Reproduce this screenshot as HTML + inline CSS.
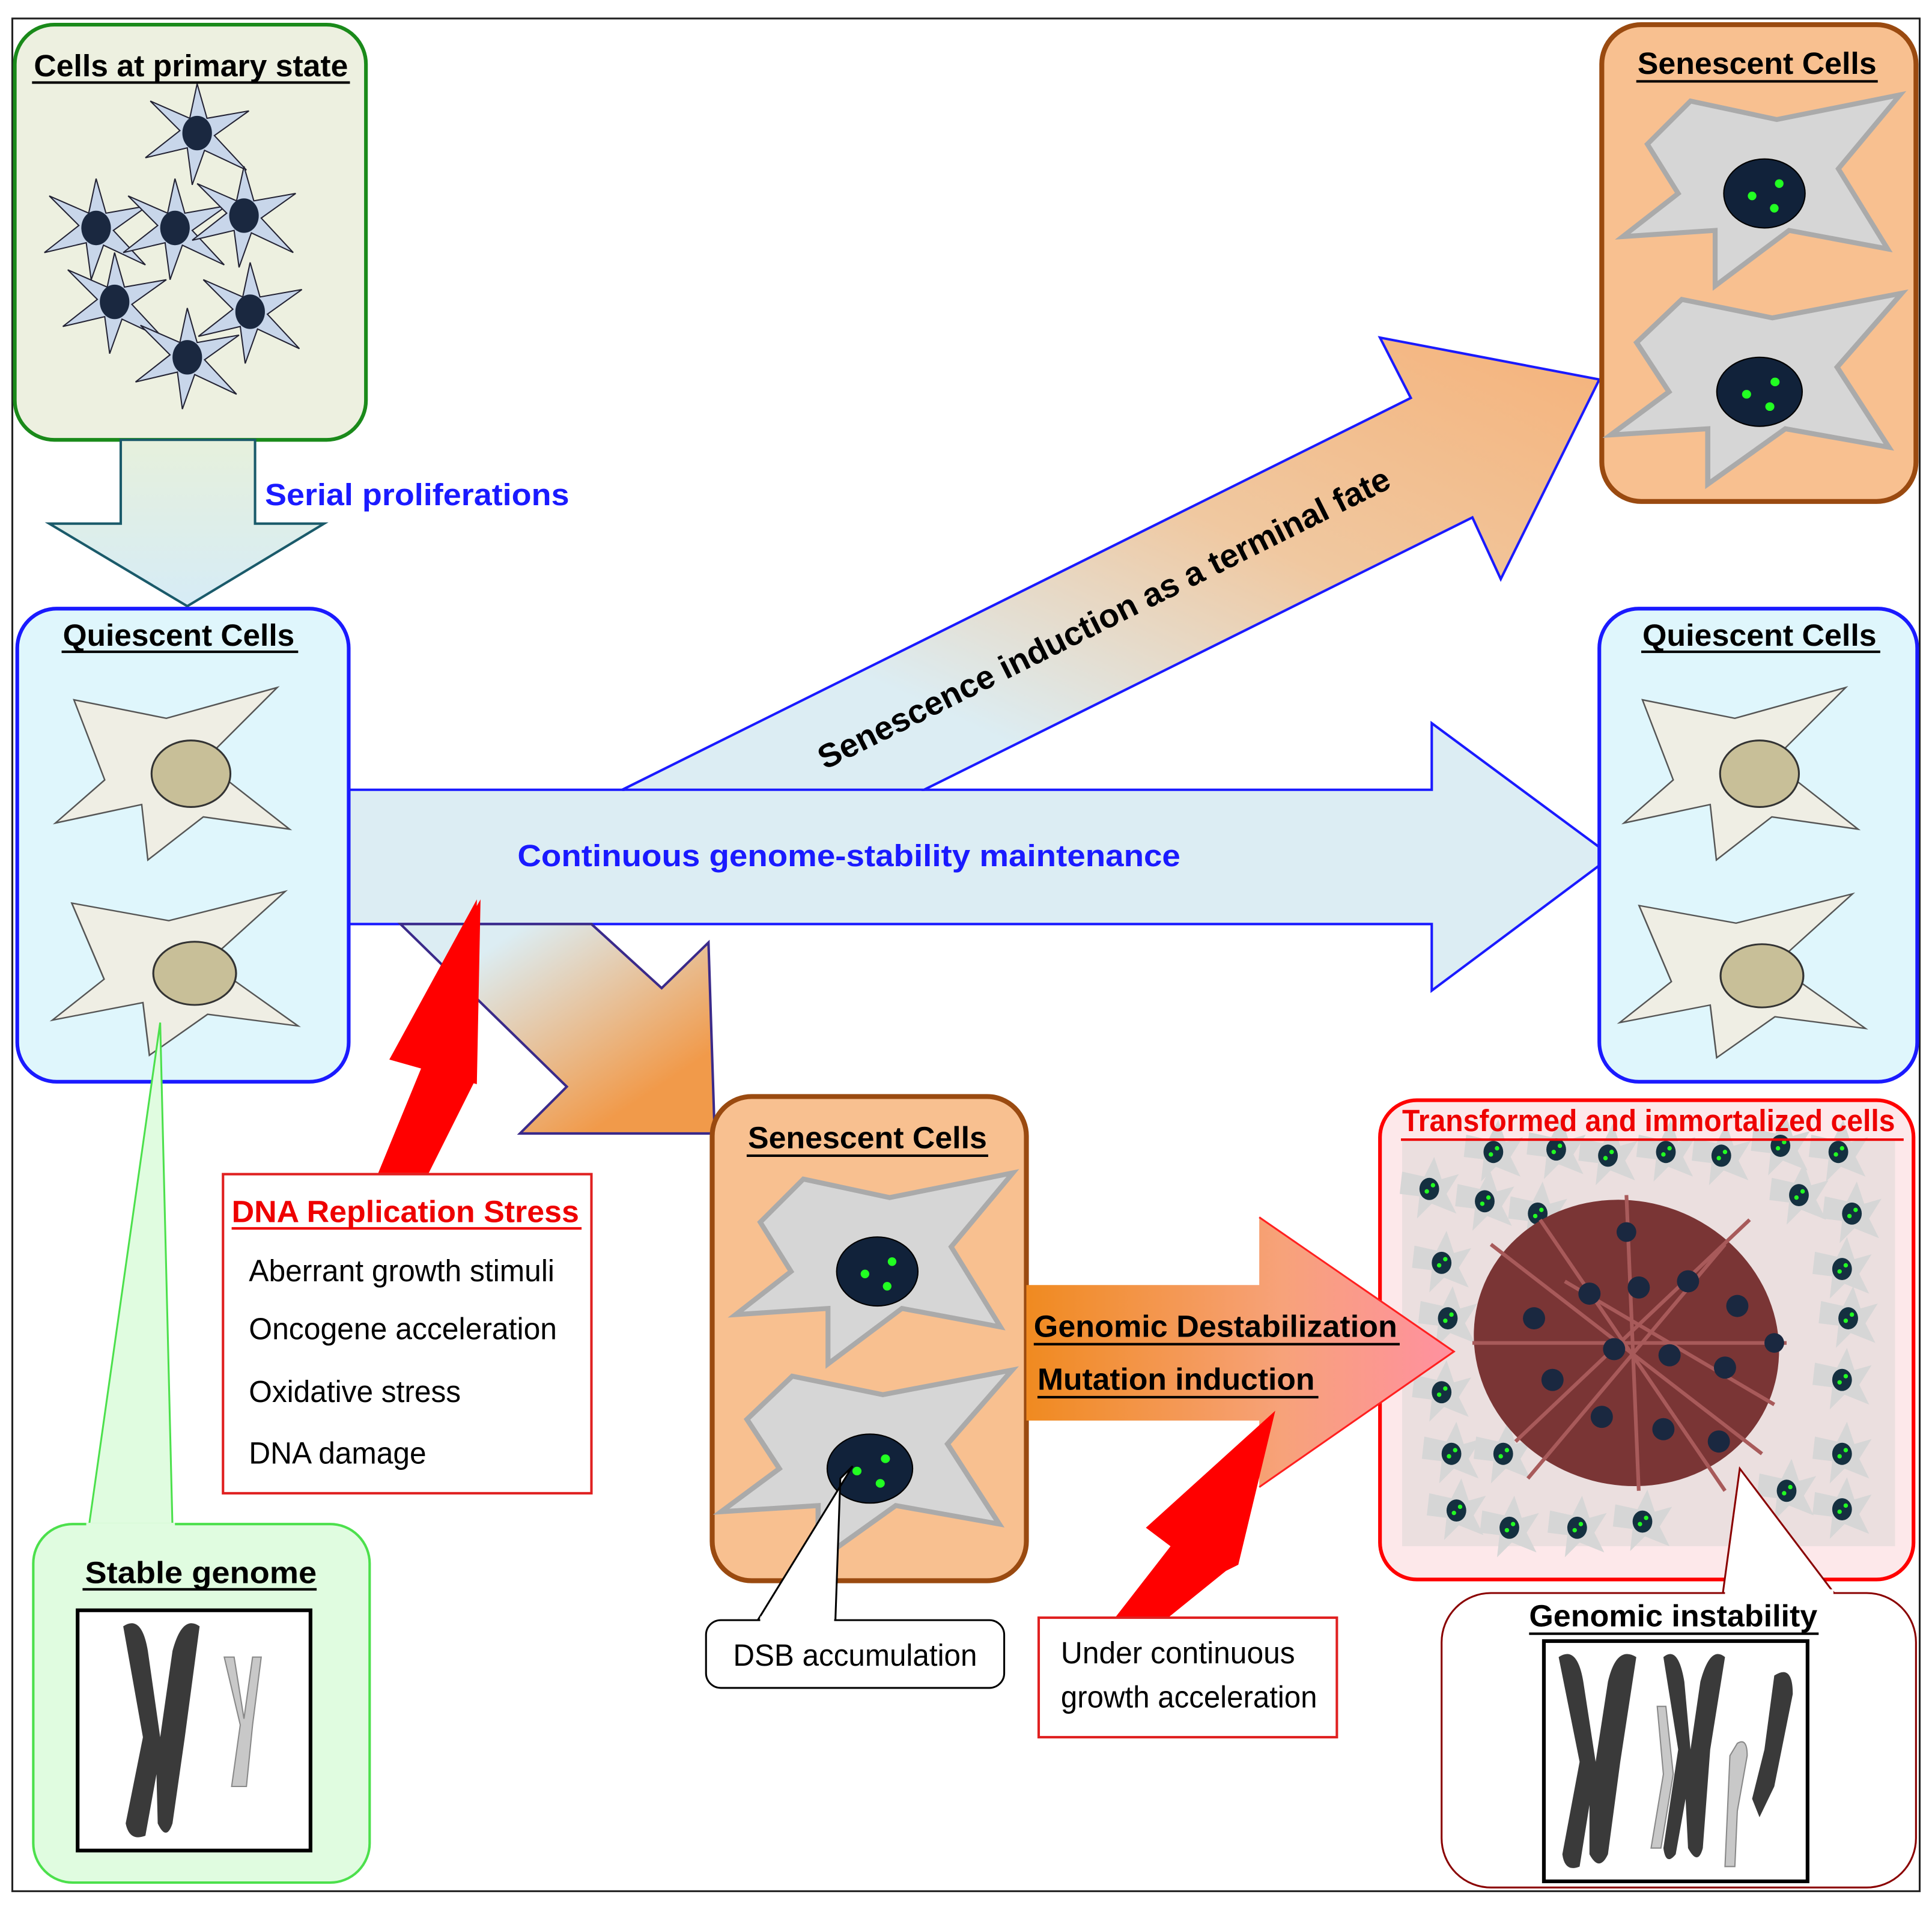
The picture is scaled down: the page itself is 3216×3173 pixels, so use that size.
<!DOCTYPE html>
<html><head><meta charset="utf-8"><style>
html,body{margin:0;padding:0;background:#fff}
svg{display:block}
text{font-family:"Liberation Sans",sans-serif}
</style></head><body>
<svg width="3216" height="3173" viewBox="0 0 1568 1547" xmlns="http://www.w3.org/2000/svg">
<defs>
<linearGradient id="gDown" x1="0" y1="0" x2="0" y2="1"><stop offset="0" stop-color="#e6f0dc"/><stop offset="1" stop-color="#d6ecf6"/></linearGradient>
<linearGradient id="gSen" x1="0" y1="1" x2="1" y2="0"><stop offset="0.25" stop-color="#dcedf3"/><stop offset="0.6" stop-color="#f0c8a0"/><stop offset="1" stop-color="#f5b27a"/></linearGradient>
<linearGradient id="gLow" x1="0" y1="0" x2="1" y2="1"><stop offset="0.2" stop-color="#dcedf3"/><stop offset="0.8" stop-color="#f19a4a"/></linearGradient>
<linearGradient id="gOr" x1="0" y1="0" x2="1" y2="0"><stop offset="0" stop-color="#f08a20"/><stop offset="0.6" stop-color="#f7a27a"/><stop offset="1" stop-color="#ff90a0"/></linearGradient>
<g id="qcell"><path d="M-95,-60 L-20,-45 L70,-70 L10,-10 L80,45 L10,35 L-35,70 L-40,25 L-110,40 L-70,5 Z" fill="#efeee4" stroke="#555" stroke-width="1.2"/><ellipse cx="0" cy="0" rx="32" ry="27" fill="#c8bf98" stroke="#333" stroke-width="1.5"/></g>
<g id="scell"><path d="M-95,-40 L-60,-75 L10,-60 L110,-80 L60,-20 L100,45 L20,30 L-40,75 L-40,30 L-115,35 L-70,0 Z" fill="#d6d6d6" stroke="#aaa" stroke-width="4"/><ellipse cx="0" cy="0" rx="33" ry="28" fill="#11223a" stroke="#000"/><circle cx="-10" cy="2" r="3.5" fill="#2f2"/><circle cx="12" cy="-8" r="3.5" fill="#2f2"/><circle cx="8" cy="12" r="3.5" fill="#2f2"/></g>
<g id="pcell"><path d="M0,-40 L8,-12 L42,-18 L14,2 L40,30 L6,14 L-4,42 L-8,12 L-42,20 L-14,-2 L-38,-26 L-6,-12 Z" fill="#c8d6ea" stroke="#223" stroke-width="1"/><ellipse cx="0" cy="0" rx="12" ry="14" fill="#1a2840"/></g>
<g id="tcell"><path d="M-22,-14 L-4,-10 L4,-26 L10,-8 L24,-12 L14,4 L22,20 L2,12 L-10,24 L-8,6 L-24,4 Z" fill="#d6d6d6"/><ellipse cx="0" cy="0" rx="8" ry="9" fill="#143040"/><circle cx="-2" cy="2" r="1.8" fill="#2f2"/><circle cx="3" cy="-3" r="1.8" fill="#2f2"/></g>
</defs>
<rect x="10" y="15" width="1548" height="1520" fill="#fff" stroke="#222" stroke-width="1.5"/>

<rect x="12" y="20" width="285" height="337" rx="32" fill="#edf0e0" stroke="#1a8a1a" stroke-width="3"/>
<text x="155" y="62" font-size="25" font-weight="bold" text-anchor="middle" textLength="255" lengthAdjust="spacingAndGlyphs">Cells at primary state</text>
<line x1="26" y1="67" x2="284" y2="67" stroke="#000" stroke-width="2"/>
<use href="#pcell" transform="translate(160,108)"/>
<use href="#pcell" transform="translate(78,185)"/>
<use href="#pcell" transform="translate(142,185)"/>
<use href="#pcell" transform="translate(198,175)"/>
<use href="#pcell" transform="translate(93,245)"/>
<use href="#pcell" transform="translate(203,253)"/>
<use href="#pcell" transform="translate(152,290)"/>

<polygon points="98,357 207,357 207,425 263,425 152,492 40,425 98,425" fill="url(#gDown)" stroke="#1a5a6a" stroke-width="2"/>
<text x="215" y="410" font-size="25" font-weight="bold" fill="#1a1aff" textLength="247" lengthAdjust="spacingAndGlyphs">Serial proliferations</text>

<polygon points="283,641 1162,641 1162,587 1308,695 1162,804 1162,750 283,750" fill="#dcedf3" stroke="#1a1aff" stroke-width="2"/>
<polygon points="505,641 1145,323 1120,274 1298,308 1218,470 1195,420 750,641" fill="url(#gSen)" stroke="#1a1aff" stroke-width="2"/>
<polygon points="507,642 748,642 560,735 340,735" fill="#dcedf3"/>
<text transform="translate(900,510) rotate(-26.5)" font-size="27" font-weight="bold" text-anchor="middle" textLength="515" lengthAdjust="spacingAndGlyphs">Senescence induction as a terminal fate</text>
<text x="420" y="703" font-size="25" font-weight="bold" fill="#1a1aff" textLength="538" lengthAdjust="spacingAndGlyphs">Continuous genome-stability maintenance</text>
<polygon points="325,750 480,750 537,802 575,765 580,920 422,920 460,882" fill="url(#gLow)" stroke="#3a2a8a" stroke-width="2"/>

<rect x="14" y="494" width="269" height="384" rx="32" fill="#dff6fc" stroke="#1a1aff" stroke-width="3"/>
<text x="145" y="524" font-size="25" font-weight="bold" text-anchor="middle" textLength="188" lengthAdjust="spacingAndGlyphs">Quiescent Cells</text>
<line x1="50" y1="529" x2="242" y2="529" stroke="#000" stroke-width="2"/>
<use href="#qcell" transform="translate(155,628)"/>
<use href="#qcell" transform="translate(158,790) scale(1.05,0.95)"/>

<polygon points="307,952 348,952 385,878 387,730 316,860 348,852" fill="#ff0000"/>
<polygon points="390,730 316,860 387,880" fill="#ff0000"/>

<rect x="181" y="953" width="299" height="259" fill="#fff" stroke="#e02020" stroke-width="2"/>
<text x="188" y="992" font-size="25" font-weight="bold" fill="#ee0000" textLength="282" lengthAdjust="spacingAndGlyphs">DNA Replication Stress</text>
<line x1="188" y1="997" x2="472" y2="997" stroke="#ee0000" stroke-width="2"/>
<text x="202" y="1040" font-size="25" textLength="248" lengthAdjust="spacingAndGlyphs">Aberrant growth stimuli</text>
<text x="202" y="1087" font-size="25" textLength="250" lengthAdjust="spacingAndGlyphs">Oncogene acceleration</text>
<text x="202" y="1138" font-size="25" textLength="172" lengthAdjust="spacingAndGlyphs">Oxidative stress</text>
<text x="202" y="1188" font-size="25" textLength="144" lengthAdjust="spacingAndGlyphs">DNA damage</text>

<polygon points="130,830 72,1240 140,1240" fill="#e0fce0" stroke="#4ce04c" stroke-width="1.5"/>
<rect x="27" y="1237" width="273" height="291" rx="32" fill="#e0fce0" stroke="#4ce04c" stroke-width="2"/>
<rect x="70" y="1236" width="72" height="4" fill="#e0fce0"/>
<text x="163" y="1285" font-size="25" font-weight="bold" text-anchor="middle" textLength="188" lengthAdjust="spacingAndGlyphs">Stable genome</text>
<line x1="67" y1="1290" x2="257" y2="1290" stroke="#000" stroke-width="2"/>
<rect x="63" y="1307" width="189" height="195" fill="#fff" stroke="#000" stroke-width="3"/>
<path d="M100,1320 Q115,1310 120,1340 L130,1410 L140,1340 Q148,1310 162,1320 L150,1410 L140,1480 Q135,1495 128,1480 L127,1440 L118,1490 Q105,1495 102,1480 L116,1410 Z" fill="#3a3a3a"/>
<path d="M182,1345 L195,1400 L188,1450 L200,1450 L205,1400 L212,1345 L205,1345 L198,1395 L190,1345 Z" fill="#c8c8c8" stroke="#888"/>

<rect x="1300" y="20" width="255" height="387" rx="32" fill="#f8c090" stroke="#9a4a10" stroke-width="4"/>
<text x="1426" y="60" font-size="25" font-weight="bold" text-anchor="middle" textLength="194" lengthAdjust="spacingAndGlyphs">Senescent Cells</text>
<line x1="1328" y1="66" x2="1524" y2="66" stroke="#000" stroke-width="2"/>
<use href="#scell" transform="translate(1432,157)"/>
<use href="#scell" transform="translate(1428,318) scale(1.05,1)"/>

<rect x="1298" y="494" width="258" height="384" rx="32" fill="#dff6fc" stroke="#1a1aff" stroke-width="3"/>
<text x="1428" y="524" font-size="25" font-weight="bold" text-anchor="middle" textLength="190" lengthAdjust="spacingAndGlyphs">Quiescent Cells</text>
<line x1="1332" y1="529" x2="1526" y2="529" stroke="#000" stroke-width="2"/>
<use href="#qcell" transform="translate(1428,628)"/>
<use href="#qcell" transform="translate(1430,792) scale(1.05,0.95)"/>

<rect x="578" y="890" width="255" height="393" rx="32" fill="#f8c090" stroke="#9a4a10" stroke-width="4"/>
<text x="704" y="932" font-size="25" font-weight="bold" text-anchor="middle" textLength="194" lengthAdjust="spacingAndGlyphs">Senescent Cells</text>
<line x1="606" y1="938" x2="802" y2="938" stroke="#000" stroke-width="2"/>
<use href="#scell" transform="translate(712,1032)"/>
<use href="#scell" transform="translate(706,1192) scale(1.05,1)"/>
<polygon points="692,1190 615,1315 678,1315 682,1200" fill="#fff" stroke="#000" stroke-width="1.5"/>
<rect x="573" y="1315" width="242" height="55" rx="12" fill="#fff" stroke="#000" stroke-width="1.5"/>
<rect x="617" y="1312" width="60" height="5" fill="#fff"/>
<text x="694" y="1352" font-size="25" text-anchor="middle" textLength="198" lengthAdjust="spacingAndGlyphs">DSB accumulation</text>

<rect x="1120" y="893" width="433" height="389" rx="30" fill="#fde8ea" stroke="#ff0000" stroke-width="3"/>
<rect x="1138" y="925" width="400" height="330" fill="#e6dcdc" opacity="0.8"/>
<g>
<use href="#tcell" transform="translate(1160,965)"/><use href="#tcell" transform="translate(1212,935)"/><use href="#tcell" transform="translate(1263,933)"/><use href="#tcell" transform="translate(1305,938)"/><use href="#tcell" transform="translate(1352,935)"/><use href="#tcell" transform="translate(1397,938)"/><use href="#tcell" transform="translate(1445,930)"/><use href="#tcell" transform="translate(1492,935)"/>
<use href="#tcell" transform="translate(1170,1025)"/><use href="#tcell" transform="translate(1205,975)"/><use href="#tcell" transform="translate(1248,985)"/><use href="#tcell" transform="translate(1460,970)"/><use href="#tcell" transform="translate(1503,985)"/><use href="#tcell" transform="translate(1495,1030)"/>
<use href="#tcell" transform="translate(1175,1070)"/><use href="#tcell" transform="translate(1500,1070)"/><use href="#tcell" transform="translate(1170,1130)"/><use href="#tcell" transform="translate(1495,1120)"/>
<use href="#tcell" transform="translate(1178,1180)"/><use href="#tcell" transform="translate(1220,1180)"/><use href="#tcell" transform="translate(1495,1180)"/><use href="#tcell" transform="translate(1182,1226)"/><use href="#tcell" transform="translate(1225,1240)"/><use href="#tcell" transform="translate(1280,1240)"/><use href="#tcell" transform="translate(1333,1235)"/><use href="#tcell" transform="translate(1495,1225)"/><use href="#tcell" transform="translate(1450,1210)"/>
</g>
<ellipse cx="1320" cy="1090" rx="125" ry="115" fill="#7a3535" transform="rotate(20 1320 1090)"/>
<g stroke="#a85a5a" stroke-width="3">
<line x1="1210" y1="1010" x2="1430" y2="1180"/><line x1="1230" y1="1170" x2="1420" y2="990"/><line x1="1320" y1="970" x2="1330" y2="1210"/><line x1="1195" y1="1090" x2="1450" y2="1090"/><line x1="1250" y1="990" x2="1400" y2="1210"/><line x1="1400" y1="1010" x2="1240" y2="1200"/><line x1="1270" y1="1040" x2="1440" y2="1140"/>
</g>
<g fill="#1a2840">
<circle cx="1245" cy="1070" r="9"/><circle cx="1290" cy="1050" r="9"/><circle cx="1330" cy="1045" r="9"/><circle cx="1370" cy="1040" r="9"/><circle cx="1410" cy="1060" r="9"/><circle cx="1260" cy="1120" r="9"/><circle cx="1310" cy="1095" r="9"/><circle cx="1355" cy="1100" r="9"/><circle cx="1400" cy="1110" r="9"/><circle cx="1300" cy="1150" r="9"/><circle cx="1350" cy="1160" r="9"/><circle cx="1395" cy="1170" r="9"/><circle cx="1320" cy="1000" r="8"/><circle cx="1440" cy="1090" r="8"/>
</g>
<text x="1338" y="918" font-size="25" font-weight="bold" fill="#ee0000" text-anchor="middle" textLength="400" lengthAdjust="spacingAndGlyphs">Transformed and immortalized cells</text>
<line x1="1137" y1="925" x2="1545" y2="925" stroke="#ee0000" stroke-width="2"/>

<polygon points="833,1043 1022,1043 1022,988 1180,1097 1022,1207 1022,1153 833,1153" fill="url(#gOr)"/>
<path d="M1022,988 L1180,1097 L1022,1207" fill="none" stroke="#ff2020" stroke-width="1.5"/>
<text x="839" y="1085" font-size="25" font-weight="bold" textLength="295" lengthAdjust="spacingAndGlyphs">Genomic Destabilization</text>
<line x1="839" y1="1091" x2="1136" y2="1091" stroke="#000" stroke-width="2"/>
<text x="842" y="1128" font-size="25" font-weight="bold" textLength="225" lengthAdjust="spacingAndGlyphs">Mutation induction</text>
<line x1="842" y1="1134" x2="1070" y2="1134" stroke="#000" stroke-width="2"/>

<polygon points="905,1313 948,1313 995,1275 1005,1270 1035,1145 930,1240 950,1255" fill="#ff0000"/>

<rect x="843" y="1313" width="242" height="97" fill="#fff" stroke="#e02020" stroke-width="2"/>
<text x="861" y="1350" font-size="25" textLength="190" lengthAdjust="spacingAndGlyphs">Under continuous</text>
<text x="861" y="1386" font-size="25" textLength="208" lengthAdjust="spacingAndGlyphs">growth acceleration</text>

<polygon points="1412,1192 1398,1295 1490,1295" fill="#fff" stroke="#8a0000" stroke-width="1.5"/>
<rect x="1170" y="1293" width="385" height="239" rx="40" fill="#fff" stroke="#8a0000" stroke-width="1.5"/>
<rect x="1400" y="1290" width="88" height="6" fill="#fff"/>
<text x="1358" y="1320" font-size="25" font-weight="bold" text-anchor="middle" textLength="234" lengthAdjust="spacingAndGlyphs">Genomic instability</text>
<line x1="1241" y1="1326" x2="1476" y2="1326" stroke="#000" stroke-width="2"/>
<rect x="1253" y="1332" width="214" height="195" fill="#fff" stroke="#000" stroke-width="3"/>
<path d="M1265,1345 Q1280,1335 1285,1365 L1295,1430 L1305,1365 Q1312,1335 1328,1345 L1315,1430 L1305,1505 Q1298,1520 1290,1505 L1290,1465 L1282,1515 Q1270,1520 1268,1505 L1282,1430 Z" fill="#3a3a3a"/>
<path d="M1350,1345 Q1362,1335 1367,1365 L1372,1420 L1380,1365 Q1388,1335 1400,1345 L1388,1420 L1382,1500 Q1378,1515 1370,1500 L1368,1460 L1360,1505 Q1352,1515 1350,1500 L1362,1420 Z" fill="#3a3a3a"/>
<path d="M1440,1360 Q1455,1350 1455,1375 L1440,1450 L1428,1475 L1422,1460 L1432,1420 Z" fill="#3a3a3a"/>
<path d="M1345,1385 L1350,1440 L1340,1500 L1348,1500 L1358,1440 L1352,1385 Z" fill="#c8c8c8" stroke="#888"/>
<path d="M1410,1415 Q1418,1410 1418,1425 L1410,1470 L1408,1515 L1400,1515 L1402,1470 L1404,1425 Z" fill="#c8c8c8" stroke="#888"/>
</svg>
</body></html>
